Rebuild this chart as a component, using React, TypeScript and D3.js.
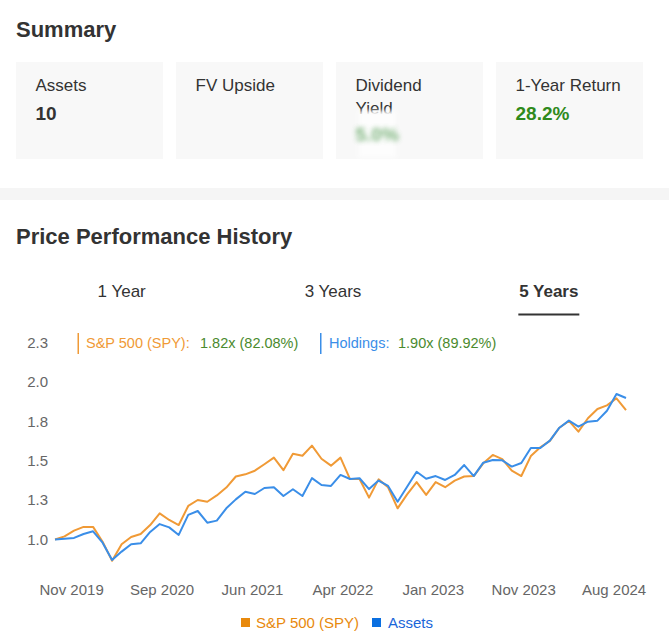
import * as d3 from "d3";

// monthly growth of $1, Sep 2019 .. Sep 2024
const spyValues = [
  1.0, 1.02, 1.056, 1.08, 1.08, 0.986, 0.865, 0.97, 1.016, 1.035, 1.092, 1.166,
  1.124, 1.092, 1.213, 1.251, 1.24, 1.28, 1.33, 1.4, 1.414, 1.437, 1.478, 1.52,
  1.44, 1.545, 1.532, 1.596, 1.513, 1.469, 1.52, 1.384, 1.384, 1.266, 1.382,
  1.332, 1.198, 1.287, 1.365, 1.283, 1.365, 1.332, 1.374, 1.4, 1.403, 1.484,
  1.537, 1.511, 1.437, 1.403, 1.53, 1.586, 1.626, 1.71, 1.753, 1.685, 1.77,
  1.829, 1.852, 1.897, 1.821,
];

const holdingsValues = [
  1.0, 1.005, 1.01, 1.035, 1.052, 0.98, 0.87, 0.923, 0.97, 0.976, 1.048, 1.098,
  1.077, 1.029, 1.156, 1.181, 1.107, 1.12, 1.198, 1.255, 1.303, 1.289, 1.327,
  1.332, 1.276, 1.319, 1.276, 1.39, 1.346, 1.34, 1.41, 1.384, 1.389, 1.32,
  1.374, 1.34, 1.24, 1.335, 1.43, 1.386, 1.403, 1.378, 1.41, 1.473, 1.403,
  1.488, 1.505, 1.503, 1.463, 1.486, 1.581, 1.581, 1.628, 1.71, 1.755, 1.717,
  1.748, 1.755, 1.818, 1.924, 1.899,
];

const xTickLabels = ["Nov 2019", "Sep 2020", "Jun 2021", "Apr 2022", "Jan 2023", "Nov 2023", "Aug 2024"];
const xTickIndex = [1.75, 11.25, 20.75, 30.25, 39.75, 49.25, 58.75];
const yTicks = [1.0, 1.25, 1.5, 1.75, 2.0, 2.25];

const summaryCards = ["Assets", "FV Upside", "Dividend Yield", "1-Year Return"];
const tabs = ["1 Year", "3 Years", "5 Years"];

const FONT = "'Liberation Sans', Arial, Helvetica, sans-serif";
const ORANGE = "#f09a36";
const BLUE = "#3a8ee8";
const GREEN = "#2f8a1c";

export default function App() {
  const width = 669;
  const height = 631;

  const x = d3.scaleLinear().domain([0, spyValues.length - 1]).range([55, 626]);
  const y = d3.scaleLinear().domain([1, 2.25]).range([539.5, 342.7]);
  const fmt = d3.format(".1f");

  const line = d3
    .line<number>()
    .x((_, i) => x(i))
    .y((d) => y(d));

  const cardScale = d3.scaleBand<string>().domain(summaryCards).range([16, 643]).paddingInner(0.08125);
  const tabScale = d3.scaleBand<string>().domain(tabs).range([16, 650]);
  const cx = (c: string) => (cardScale(c) ?? 0) + 19.5;

  return (
    <svg
      width={width}
      height={height}
      style={{ position: "absolute", left: 0, top: 0, fontFamily: FONT }}
    >
      <defs>
        <filter id="blurText" x="-30%" y="-60%" width="160%" height="220%">
          <feGaussianBlur stdDeviation="2.6" />
        </filter>
        <filter id="blurBox" x="-30%" y="-30%" width="160%" height="160%">
          <feGaussianBlur stdDeviation="2" />
        </filter>
      </defs>
      <rect width={width} height={height} fill="#ffffff" />

      {/* Summary */}
      <text x={16} y={37} fontSize={22} fontWeight="bold" fill="#333">
        Summary
      </text>
      {summaryCards.map((c) => (
        <rect key={c} x={cardScale(c)} y={62} width={cardScale.bandwidth()} height={97} fill="#f8f8f8" />
      ))}
      <text x={cx("Assets")} y={91} fontSize={17} fill="#333">Assets</text>
      <text x={cx("Assets")} y={120} fontSize={19} fontWeight="bold" fill="#333">10</text>
      <text x={cx("FV Upside")} y={91} fontSize={17} fill="#333">FV Upside</text>
      <text x={cx("Dividend Yield")} y={91} fontSize={17} fill="#333">Dividend</text>
      <text x={cx("Dividend Yield")} y={114} fontSize={17} fill="#333">Yield</text>
      <rect
        x={cx("Dividend Yield") + 3}
        y={111}
        width={38}
        height={47}
        fill="#fdfdfd"
        filter="url(#blurBox)"
      />
      <text
        x={cx("Dividend Yield")}
        y={141}
        fontSize={19}
        fontWeight="bold"
        fill="#5aa05a"
        opacity={0.8}
        filter="url(#blurText)"
      >
        5.0%
      </text>
      <text x={cx("1-Year Return")} y={91} fontSize={17} fill="#333">1-Year Return</text>
      <text x={cx("1-Year Return")} y={120} fontSize={19} fontWeight="bold" fill={GREEN}>28.2%</text>

      {/* divider band */}
      <rect x={0} y={188} width={width} height={12} fill="#f5f5f5" />

      {/* Price Performance History */}
      <text x={16} y={244} fontSize={22} fontWeight="bold" fill="#333">
        Price Performance History
      </text>
      {tabs.map((t, i) => {
        const active = i === tabs.length - 1;
        const tx = (tabScale(t) ?? 0) + tabScale.bandwidth() / 2 + (active ? 4.5 : 0);
        return (
          <g key={t}>
            <text x={tx} y={297} textAnchor="middle" fontSize={17} fontWeight={active ? "bold" : "normal"} fill="#333">
              {t}
            </text>
            {active && <rect x={tx - 30.5} y={313.5} width={61} height={2} fill="#333" />}
          </g>
        );
      })}

      {/* y axis labels */}
      {yTicks.map((t) => (
        <text key={t} x={48} y={y(t)} dy="0.35em" textAnchor="end" fontSize={15} fill="#666">
          {fmt(t)}
        </text>
      ))}

      {/* top legend */}
      <rect x={77.5} y={333} width={1.5} height={21} fill={ORANGE} />
      <text x={86} y={347.5} fontSize={14.5} fill={ORANGE}>S&amp;P 500 (SPY):</text>
      <text x={200} y={347.5} fontSize={14.5} fill="#4a8a2e">1.82x (82.08%)</text>
      <rect x={320} y={333} width={1.5} height={21} fill={BLUE} />
      <text x={329} y={347.5} fontSize={14.5} fill={BLUE}>Holdings:</text>
      <text x={398} y={347.5} fontSize={14.5} fill="#4a8a2e">1.90x (89.92%)</text>

      {/* lines */}
      <path d={line(spyValues) ?? ""} fill="none" stroke={ORANGE} strokeWidth={2} strokeLinejoin="round" />
      <path d={line(holdingsValues) ?? ""} fill="none" stroke={BLUE} strokeWidth={2} strokeLinejoin="round" />

      {/* x axis labels */}
      {xTickLabels.map((label, i) => (
        <text key={label} x={x(xTickIndex[i])} y={594.5} textAnchor="middle" fontSize={15} fill="#666">
          {label}
        </text>
      ))}

      {/* bottom legend */}
      <rect x={241} y={618} width={9} height={9} fill="#e8890c" />
      <text x={256} y={627.5} fontSize={15} fill="#e8890c">S&amp;P 500 (SPY)</text>
      <rect x={372} y={618} width={9} height={9} fill="#0a6fe0" />
      <text x={388} y={627.5} fontSize={15} fill="#1a66d9">Assets</text>
    </svg>
  );
}
